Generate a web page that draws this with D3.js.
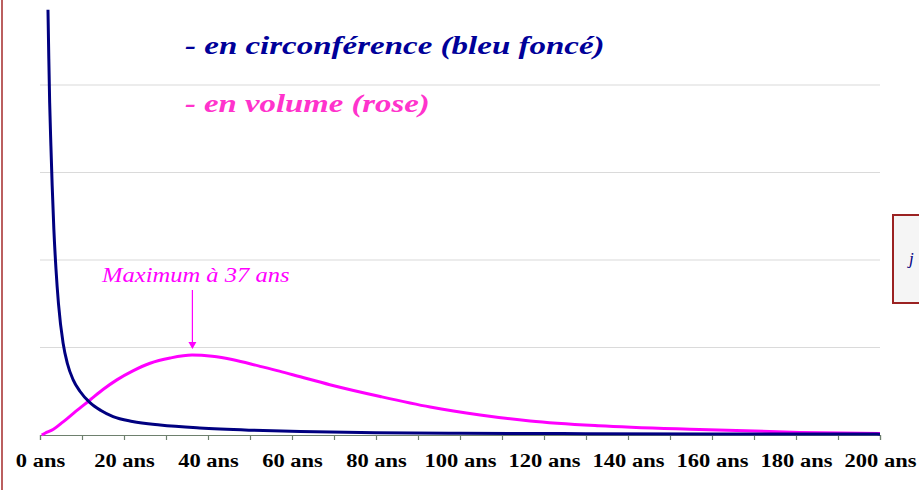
<!DOCTYPE html>
<html><head><meta charset="utf-8">
<script src="https://cdn.jsdelivr.net/npm/d3@7"></script>
</head><body>
<svg id="c" width="919" height="490" style="position:absolute;left:0;top:0;background:#fff"></svg>
<script>
// ---- data ----
const xTicks = d3.range(0, 201, 10);
const xLabels = d3.range(0, 201, 20).map(d => d + " ans");
const yGrid = [1, 2, 3, 4];
// circonférence (bleu foncé): [âge, valeur]
const blueAge = [1.9, 2.1, 2.3, 2.6, 2.9, 3.3, 3.8, 4.4, 5.5, 6.5, 7.9, 9.5, 11.9, 14.5, 17.4, 22, 28.6, 38, 50, 62, 80, 100, 130, 160, 200];
const blueVal = [4.86, 4.3, 3.8, 3.3, 2.85, 2.35, 1.9, 1.5, 1.05, 0.82, 0.63, 0.5, 0.37, 0.28, 0.21, 0.155, 0.114, 0.08, 0.055, 0.04, 0.027, 0.02, 0.015, 0.012, 0.01];
// volume (rose)
const pinkAge = [0.4, 1.2, 3.2, 5.5, 8.5, 11.9, 15, 18.3, 22, 26.2, 31, 36.2, 41, 46, 52, 57, 62, 69, 81, 92.9, 104.8, 116.7, 133, 157, 181, 200];
const pinkVal = [0, 0.02, 0.065, 0.15, 0.27, 0.4, 0.52, 0.63, 0.73, 0.82, 0.88, 0.914, 0.9, 0.86, 0.79, 0.73, 0.665, 0.575, 0.44, 0.32, 0.229, 0.16, 0.105, 0.062, 0.03, 0.017];
const maxAge = 37, maxVal = 0.914;
const title1 = "- en circonférence (bleu foncé)";
const title2 = "- en volume (rose)";
const annot = "Maximum à 37 ans";

// ---- drawing ----
const svg = d3.select("#c");
const x = d3.scaleLinear().domain([0, 200]).range([40, 880]);
const y = d3.scaleLinear().domain([0, 5]).range([435, -2.5]);

function serif(sel, size, italic, bold) {
  return sel.style("font-family", '"Liberation Serif"')
    .style("font-size", size + "px")
    .style("font-style", italic ? "italic" : "normal")
    .style("font-weight", bold ? "bold" : "normal");
}

svg.append("line").attr("x1", 2).attr("x2", 2).attr("y1", 0).attr("y2", 490)
  .attr("stroke", "#a52a2a").attr("stroke-width", 1.5);

svg.append("g").selectAll("line").data(yGrid).join("line")
  .attr("x1", x(0)).attr("x2", x(200)).attr("y1", d => y(d)).attr("y2", d => y(d))
  .attr("stroke", "#dadada").attr("stroke-width", 1.2);

const ax = svg.append("g").attr("transform", `translate(0,${y(0)})`)
  .call(d3.axisBottom(x).tickValues(xTicks).tickSize(5).tickPadding(14)
    .tickFormat(d => d % 20 === 0 ? xLabels[d / 20] : ""));
ax.attr("font-family", null).attr("font-size", null);
ax.select(".domain").attr("stroke", "#6e806e").attr("stroke-width", 1.2);
ax.selectAll(".tick line").attr("stroke", "#6e806e").attr("stroke-width", 1.2);
serif(ax.selectAll(".tick text"), 18, false, true)
  .attr("fill", "#000").attr("transform", "scale(1.25,1)");

const line = d3.line().x(d => x(d[0])).y(d => y(d[1])).curve(d3.curveMonotoneX);
svg.append("path").datum(pinkAge.map((a, i) => [a, pinkVal[i]]))
  .attr("d", line).attr("fill", "none").attr("stroke", "#ff00ff").attr("stroke-width", 3);
svg.append("path").datum(blueAge.map((a, i) => [a, blueVal[i]]))
  .attr("d", line).attr("fill", "none").attr("stroke", "#000080").attr("stroke-width", 3);

serif(svg.append("text"), 25, true, true).attr("transform", "translate(185,54) scale(1.32,1)")
  .style("fill", "#000099").text(title1);
serif(svg.append("text"), 25, true, true).attr("transform", "translate(185,112) scale(1.31,1)")
  .style("fill", "#ff33cc").text(title2);

serif(svg.append("text"), 21, true, false).attr("transform", "translate(102,282) scale(1.17,1)")
  .style("fill", "#ff00ff").text(annot);
const ax0 = x(maxAge) - 3, tipY = y(maxVal) - 6;
svg.append("line").attr("x1", ax0).attr("x2", ax0).attr("y1", 290).attr("y2", tipY - 6)
  .attr("stroke", "#ff00ff").attr("stroke-width", 1.2);
svg.append("path").attr("d", `M${ax0 - 4},${tipY - 7} L${ax0 + 4},${tipY - 7} L${ax0},${tipY} Z`)
  .attr("fill", "#ff00ff");

svg.append("rect").attr("x", 893).attr("y", 215).attr("width", 40).attr("height", 88)
  .attr("fill", "#f5f5f5").attr("stroke", "#9b2222").attr("stroke-width", 2);
serif(svg.append("text"), 17, true, false).attr("x", 909).attr("y", 264)
  .style("fill", "#000080").text("j");
</script>
</body></html>
